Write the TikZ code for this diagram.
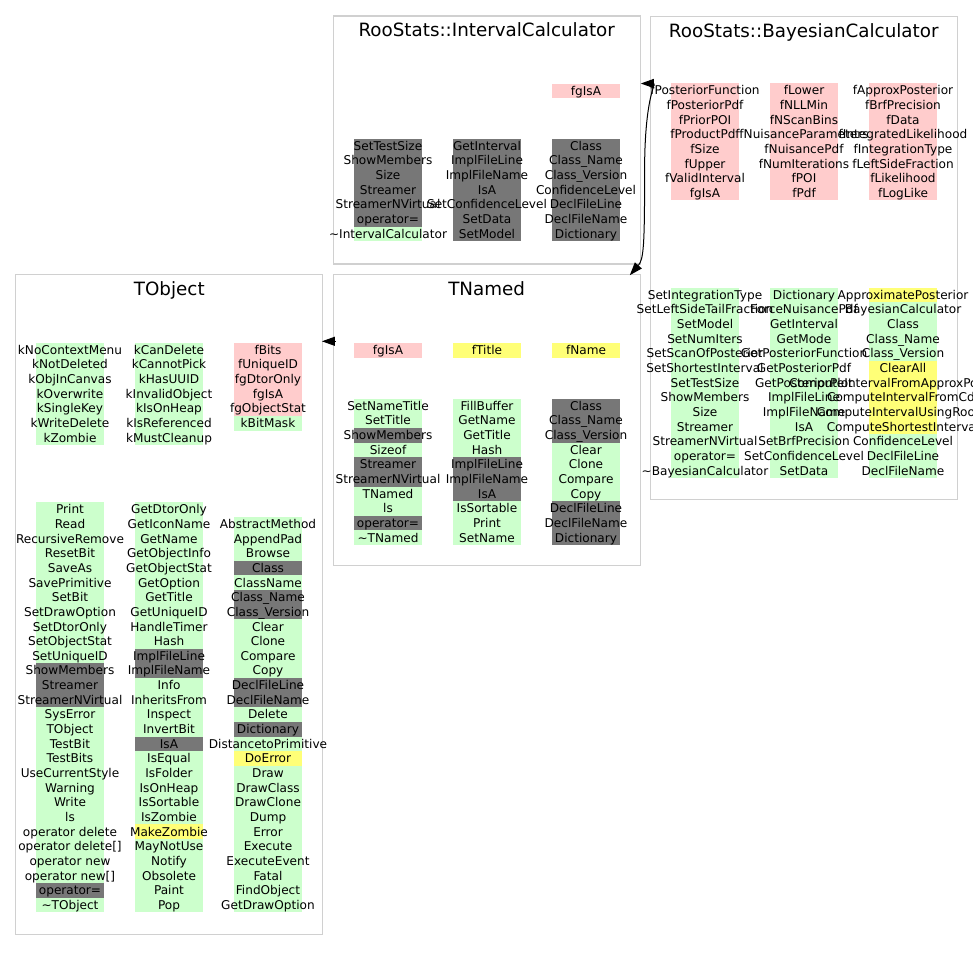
\documentclass[tikz,border=0pt]{standalone}
\usepackage{fontspec}
\setmainfont{DejaVu Sans}
\usetikzlibrary{arrows.meta,backgrounds}
\definecolor{boxline}{HTML}{D0D0D0}
\definecolor{memG}{HTML}{CCFFCC}
\definecolor{memD}{HTML}{777777}
\definecolor{memP}{HTML}{FFCCCC}
\definecolor{memY}{HTML}{FFFF77}
\tikzset{
  classbox/.style={draw=boxline, line width=1.2pt, minimum width=307pt, inner sep=0pt},
  classtitle/.style={anchor=base, inner sep=0pt, font=\fontsize{18.3}{20}\selectfont},
  memtext/.style={anchor=base, inner sep=0pt, font=\fontsize{12.1}{14}\selectfont},
  inharrow/.style={-{Triangle[length=13pt,width=9pt]}, line width=1pt, draw=black}
}
% one column of members: name prefix, x centre, y of first row, list of text/colour
\newcommand{\memcolumn}[4]{%
  \foreach \txt/\clr [count=\i] in {#4} {
    \begin{scope}[on background layer]
      \fill[fill=\clr] (#2-34,#3-7.4+14.65*\i-14.65) rectangle ++(68,14.8);
    \end{scope}
    \node[memtext] (#1-\i) at (#2,#3+4.3+14.65*\i-14.65) {\txt};
  }%
}

\begin{document}
\begin{tikzpicture}[x=1pt,y=-1pt]
    \useasboundingbox (0,0) rectangle (973,961);
    % class boxes and titles
    \node[classbox, minimum height=248pt] (intcalc) at (486.7,140) {};
    \node[classbox, minimum height=483pt] (bayes) at (803.7,257.7) {};
    \node[classbox, minimum height=291pt] (tnamed) at (486.7,420.3) {};
    \node[classbox, minimum height=660pt] (tobject) at (169.3,604.5) {};
    \node[classtitle] (intcalc-title) at ([yshift=-21.5pt]intcalc.north) {RooStats::IntervalCalculator};
    \node[classtitle] (bayes-title) at ([yshift=-21.5pt]bayes.north) {RooStats::BayesianCalculator};
    \node[classtitle] (tnamed-title) at ([yshift=-21.5pt]tnamed.north) {TNamed};
    \node[classtitle] (tobject-title) at ([yshift=-21.5pt]tobject.north) {TObject};

    % RooStats::IntervalCalculator
    \memcolumn{intcalc-d3}{586}{91}{fgIsA/memP}
    \memcolumn{intcalc-m1}{388}{146}{SetTestSize/memD, ShowMembers/memD, Size/memD, Streamer/memD,
      StreamerNVirtual/memD, operator=/memD, \textasciitilde IntervalCalculator/memG}
    \memcolumn{intcalc-m2}{487}{146}{GetInterval/memD, ImplFileLine/memD, ImplFileName/memD, IsA/memD,
      SetConfidenceLevel/memD, SetData/memD, SetModel/memD}
    \memcolumn{intcalc-m3}{586}{146}{Class/memD, Class\_Name/memD, Class\_Version/memD, ConfidenceLevel/memD,
      DeclFileLine/memD, DeclFileName/memD, Dictionary/memD}

    % RooStats::BayesianCalculator
    \memcolumn{bayes-d1}{705}{90.5}{fPosteriorFunction/memP, fPosteriorPdf/memP, fPriorPOI/memP, fProductPdf/memP,
      fSize/memP, fUpper/memP, fValidInterval/memP, fgIsA/memP}
    \memcolumn{bayes-d2}{804}{90.5}{fLower/memP, fNLLMin/memP, fNScanBins/memP, fNuisanceParameters/memP,
      fNuisancePdf/memP, fNumIterations/memP, fPOI/memP, fPdf/memP}
    \memcolumn{bayes-d3}{903}{90.5}{fApproxPosterior/memP, fBrfPrecision/memP, fData/memP, fIntegratedLikelihood/memP,
      fIntegrationType/memP, fLeftSideFraction/memP, fLikelihood/memP, fLogLike/memP}
    \memcolumn{bayes-m1}{705}{295}{SetIntegrationType/memG, SetLeftSideTailFraction/memG, SetModel/memG,
      SetNumIters/memG, SetScanOfPosterior/memG, SetShortestInterval/memG, SetTestSize/memG,
      ShowMembers/memG, Size/memG, Streamer/memG, StreamerNVirtual/memG, operator=/memG,
      \textasciitilde BayesianCalculator/memG}
    \memcolumn{bayes-m2}{804}{295}{Dictionary/memG, ForceNuisancePdf/memG, GetInterval/memG, GetMode/memG,
      GetPosteriorFunction/memG, GetPosteriorPdf/memG, GetPosteriorPlot/memG, ImplFileLine/memG,
      ImplFileName/memG, IsA/memG, SetBrfPrecision/memG, SetConfidenceLevel/memG, SetData/memG}
    \memcolumn{bayes-m3}{903}{295}{ApproximatePosterior/memY, BayesianCalculator/memG, Class/memG,
      Class\_Name/memG, Class\_Version/memG, ClearAll/memY, ComputeIntervalFromApproxPosterior/memY,
      ComputeIntervalFromCdf/memY, ComputeIntervalUsingRooFit/memY, ComputeShortestInterval/memY,
      ConfidenceLevel/memG, DeclFileLine/memG, DeclFileName/memG}

    % TNamed
    \memcolumn{tnamed-d1}{388}{350.5}{fgIsA/memP}
    \memcolumn{tnamed-d2}{487}{350.5}{fTitle/memY}
    \memcolumn{tnamed-d3}{586}{350.5}{fName/memY}
    \memcolumn{tnamed-m1}{388}{406}{SetNameTitle/memG, SetTitle/memG, ShowMembers/memD, Sizeof/memG,
      Streamer/memD, StreamerNVirtual/memD, TNamed/memG, ls/memG, operator=/memD, \textasciitilde TNamed/memG}
    \memcolumn{tnamed-m2}{487}{406}{FillBuffer/memG, GetName/memG, GetTitle/memG, Hash/memG,
      ImplFileLine/memD, ImplFileName/memD, IsA/memD, IsSortable/memG, Print/memG, SetName/memG}
    \memcolumn{tnamed-m3}{586}{406}{Class/memD, Class\_Name/memD, Class\_Version/memD, Clear/memG,
      Clone/memG, Compare/memG, Copy/memG, DeclFileLine/memD, DeclFileName/memD, Dictionary/memD}

    % TObject
    \memcolumn{tobject-d1}{70}{350}{kNoContextMenu/memG, kNotDeleted/memG, kObjInCanvas/memG, kOverwrite/memG,
      kSingleKey/memG, kWriteDelete/memG, kZombie/memG}
    \memcolumn{tobject-d2}{169}{350}{kCanDelete/memG, kCannotPick/memG, kHasUUID/memG, kInvalidObject/memG,
      kIsOnHeap/memG, kIsReferenced/memG, kMustCleanup/memG}
    \memcolumn{tobject-d3}{268}{350}{fBits/memP, fUniqueID/memP, fgDtorOnly/memP, fgIsA/memP,
      fgObjectStat/memP, kBitMask/memG}
    \memcolumn{tobject-m1}{70}{509.5}{Print/memG, Read/memG, RecursiveRemove/memG, ResetBit/memG, SaveAs/memG,
      SavePrimitive/memG, SetBit/memG, SetDrawOption/memG, SetDtorOnly/memG, SetObjectStat/memG,
      SetUniqueID/memG, ShowMembers/memD, Streamer/memD, StreamerNVirtual/memD, SysError/memG,
      TObject/memG, TestBit/memG, TestBits/memG, UseCurrentStyle/memG, Warning/memG, Write/memG,
      ls/memG, operator delete/memG, operator delete[]/memG, operator new/memG, operator new[]/memG,
      operator=/memD, \textasciitilde TObject/memG}
    \memcolumn{tobject-m2}{169}{509.5}{GetDtorOnly/memG, GetIconName/memG, GetName/memG, GetObjectInfo/memG,
      GetObjectStat/memG, GetOption/memG, GetTitle/memG, GetUniqueID/memG, HandleTimer/memG, Hash/memG,
      ImplFileLine/memD, ImplFileName/memD, Info/memG, InheritsFrom/memG, Inspect/memG, InvertBit/memG,
      IsA/memD, IsEqual/memG, IsFolder/memG, IsOnHeap/memG, IsSortable/memG, IsZombie/memG,
      MakeZombie/memY, MayNotUse/memG, Notify/memG, Obsolete/memG, Paint/memG, Pop/memG}
    \memcolumn{tobject-m3}{268}{524.15}{AbstractMethod/memG, AppendPad/memG, Browse/memG, Class/memD,
      ClassName/memG, Class\_Name/memD, Class\_Version/memD, Clear/memG, Clone/memG, Compare/memG,
      Copy/memG, DeclFileLine/memD, DeclFileName/memD, Delete/memG, Dictionary/memD,
      DistancetoPrimitive/memG, DoError/memY, Draw/memG, DrawClass/memG, DrawClone/memG, Dump/memG,
      Error/memG, Execute/memG, ExecuteEvent/memG, Fatal/memG, FindObject/memG, GetDrawOption/memG}

    % inheritance
    \coordinate (tnamed-out) at ([xshift=3pt,yshift=79pt]tnamed.west);
    \coordinate (tobject-in) at (tnamed-out -| tobject.east);
    \draw[inharrow] (tnamed-out) -- ([xshift=-1.5pt]tobject-in);
    \coordinate (bayes-fork) at ([xshift=-5pt,yshift=87.5pt]bayes.west);
    \draw[inharrow] (bayes-fork) .. controls +(0,-75) and +(16,0) .. ([yshift=56.5pt]intcalc.east);
    \draw[inharrow] (bayes-fork) .. controls +(0,75) and +(14,-16) .. ([xshift=-11pt,yshift=-1pt]tnamed.north east);
\end{tikzpicture}
\end{document}
